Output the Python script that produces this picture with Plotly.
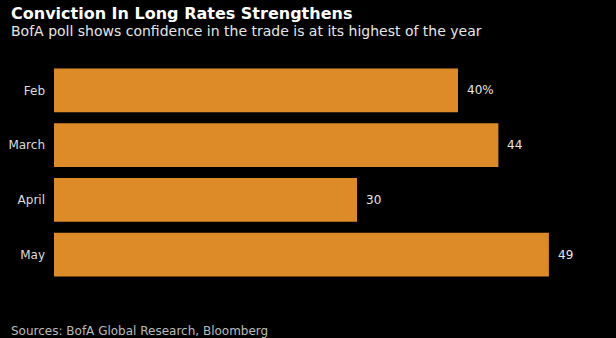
import plotly.graph_objects as go

categories = ["Feb", "March", "April", "May"]
values = [40, 44, 30, 49]
value_labels = ["40%", "44", "30", "49"]

title = "Conviction In Long Rates Strengthens"
subtitle = "BofA poll shows confidence in the trade is at its highest of the year"
source = "Sources: BofA Global Research, Bloomberg"

W, H = 616, 338
ML, MR, MT, MB = 54, 6, 63, 56
PW = W - ML - MR
PH = H - MT - MB

def py(pix):
    return 1 - (pix - MT) / PH

def px(pix):
    return (pix - ML) / PW

BAR = "#DD8B29"
FONT = "DejaVu Sans"

fig = go.Figure()
fig.add_trace(go.Bar(
    x=values, y=categories, orientation="h",
    marker=dict(color=BAR, line=dict(width=0)),
    hoverinfo="skip",
))

annotations = []
for c, v, t in zip(categories, values, value_labels):
    annotations.append(dict(x=v, y=c, xref="x", yref="y", text=t, showarrow=False,
                            xanchor="left", yanchor="middle", xshift=7,
                            font=dict(family=FONT, size=12, color="#E6E6E6")))

annotations.append(dict(x=px(9), y=py(2), xref="paper", yref="paper", text="<b>" + title + "</b>",
                        showarrow=False, xanchor="left", yanchor="top",
                        font=dict(family=FONT, size=16, color="#FFFFFF")))
annotations.append(dict(x=px(9), y=py(21), xref="paper", yref="paper", text=subtitle,
                        showarrow=False, xanchor="left", yanchor="top",
                        font=dict(family=FONT, size=14, color="#E6E6E6")))
annotations.append(dict(x=px(9), y=py(322), xref="paper", yref="paper", text=source,
                        showarrow=False, xanchor="left", yanchor="top",
                        font=dict(family=FONT, size=12, color="#BBBBBB")))

fig.update_layout(
    width=W, height=H,
    margin=dict(l=ML, r=MR, t=MT, b=MB, pad=0),
    paper_bgcolor="#000000", plot_bgcolor="#000000",
    bargap=0.2,
    showlegend=False,
    annotations=annotations,
    xaxis=dict(range=[0, PW / 10.1], visible=False, fixedrange=True),
    yaxis=dict(autorange="reversed", showgrid=False, zeroline=False, showline=False,
               ticks="", ticklabelstandoff=8,
               tickfont=dict(family=FONT, size=12, color="#DDDDDD"), fixedrange=True),
)

fig.write_html("out.html", config={"displayModeBar": False})
